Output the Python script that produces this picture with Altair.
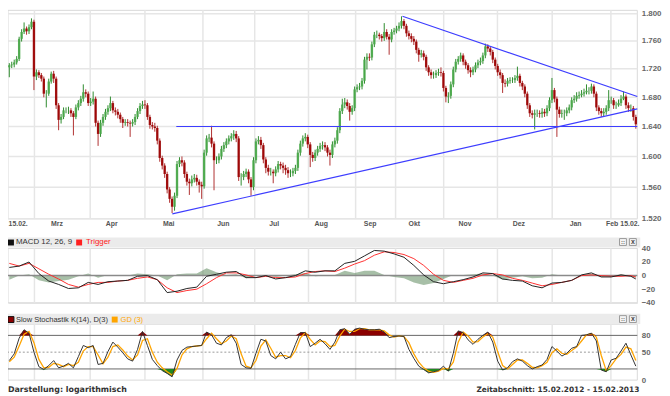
import altair as alt
import pandas as pd

# ---------------- data ----------------
close = [
1.725,1.726,1.729,1.734,1.763,1.773,1.778,1.774,1.780,1.788,
1.709,1.715,1.711,1.706,1.685,1.685,1.702,1.713,1.706,1.669,
1.649,1.653,1.662,1.662,1.662,1.658,1.653,1.666,1.672,1.678,
1.687,1.685,1.672,1.674,1.678,1.645,1.630,1.645,1.653,1.660,
1.665,1.672,1.662,1.660,1.656,1.650,1.645,1.646,1.645,1.644,
1.646,1.653,1.661,1.668,1.670,1.669,1.653,1.642,1.640,1.638,
1.621,1.598,1.588,1.577,1.557,1.545,1.535,1.549,1.590,1.595,
1.592,1.577,1.567,1.565,1.570,1.572,1.567,1.563,1.561,1.605,
1.624,1.625,1.617,1.595,1.595,1.600,1.610,1.615,1.620,1.624,
1.627,1.630,1.624,1.573,1.573,1.577,1.580,1.570,1.560,1.595,
1.620,1.622,1.615,1.596,1.585,1.580,1.580,1.578,1.583,1.590,
1.588,1.585,1.582,1.578,1.578,1.581,1.585,1.605,1.617,1.624,
1.626,1.616,1.602,1.598,1.605,1.610,1.614,1.615,1.612,1.605,
1.602,1.616,1.621,1.635,1.661,1.670,1.673,1.668,1.660,1.665,
1.691,1.694,1.695,1.703,1.733,1.737,1.736,1.755,1.769,1.769,
1.767,1.764,1.773,1.766,1.762,1.773,1.775,1.778,1.782,1.789,
1.782,1.771,1.767,1.763,1.759,1.747,1.740,1.742,1.737,1.722,
1.715,1.711,1.711,1.714,1.715,1.714,1.693,1.681,1.682,1.698,
1.719,1.730,1.734,1.739,1.730,1.725,1.718,1.715,1.719,1.725,
1.729,1.731,1.739,1.752,1.749,1.744,1.733,1.724,1.715,1.711,
1.700,1.699,1.703,1.704,1.704,1.707,1.710,1.700,1.695,1.685,
1.669,1.658,1.656,1.658,1.658,1.657,1.660,1.658,1.665,1.676,
1.690,1.678,1.663,1.657,1.658,1.658,1.662,1.666,1.676,1.678,
1.682,1.683,1.685,1.687,1.689,1.689,1.695,1.685,1.666,1.661,
1.658,1.660,1.665,1.676,1.676,1.669,1.669,1.672,1.678,1.681,
1.669,1.665,1.665,1.653,1.643]

open_ = [
1.722,1.725,1.726,1.729,1.734,1.763,1.773,1.778,1.774,1.780,
1.788,1.709,1.715,1.711,1.706,1.685,1.685,1.702,1.713,1.706,
1.669,1.649,1.653,1.662,1.662,1.662,1.658,1.653,1.666,1.672,
1.678,1.687,1.685,1.672,1.674,1.678,1.645,1.630,1.645,1.653,
1.660,1.665,1.672,1.662,1.660,1.656,1.650,1.645,1.646,1.645,
1.644,1.646,1.653,1.661,1.668,1.670,1.669,1.653,1.642,1.640,
1.638,1.621,1.598,1.588,1.577,1.557,1.545,1.535,1.549,1.590,
1.595,1.592,1.577,1.567,1.565,1.570,1.572,1.567,1.563,1.561,
1.605,1.624,1.625,1.617,1.595,1.595,1.600,1.610,1.615,1.620,
1.624,1.627,1.630,1.624,1.573,1.573,1.577,1.580,1.570,1.560,
1.595,1.620,1.622,1.615,1.596,1.585,1.580,1.580,1.578,1.583,
1.590,1.588,1.585,1.582,1.578,1.578,1.581,1.585,1.605,1.617,
1.624,1.626,1.616,1.602,1.598,1.605,1.610,1.614,1.615,1.612,
1.605,1.602,1.616,1.621,1.635,1.661,1.670,1.673,1.668,1.660,
1.665,1.691,1.694,1.695,1.703,1.733,1.737,1.736,1.755,1.769,
1.769,1.767,1.764,1.773,1.766,1.762,1.773,1.775,1.778,1.782,
1.789,1.782,1.771,1.767,1.763,1.759,1.747,1.740,1.742,1.737,
1.722,1.715,1.711,1.711,1.714,1.715,1.714,1.693,1.681,1.682,
1.698,1.719,1.730,1.734,1.739,1.730,1.725,1.718,1.715,1.719,
1.725,1.729,1.731,1.739,1.752,1.749,1.744,1.733,1.724,1.715,
1.711,1.700,1.699,1.703,1.704,1.704,1.707,1.710,1.700,1.695,
1.685,1.669,1.658,1.656,1.658,1.658,1.657,1.660,1.658,1.665,
1.676,1.690,1.678,1.663,1.657,1.658,1.658,1.662,1.666,1.676,
1.678,1.682,1.683,1.685,1.687,1.689,1.689,1.695,1.685,1.666,
1.661,1.658,1.660,1.665,1.676,1.676,1.669,1.669,1.672,1.678,
1.681,1.669,1.665,1.665,1.653]

high = [
1.728,1.730,1.733,1.738,1.766,1.777,1.787,1.781,1.784,1.793,
1.791,1.719,1.718,1.714,1.709,1.690,1.706,1.716,1.717,1.709,
1.672,1.657,1.666,1.666,1.667,1.665,1.661,1.670,1.676,1.682,
1.698,1.691,1.688,1.679,1.688,1.681,1.648,1.649,1.657,1.664,
1.669,1.681,1.675,1.666,1.664,1.659,1.653,1.650,1.650,1.648,
1.650,1.657,1.665,1.672,1.675,1.676,1.672,1.656,1.646,1.645,
1.641,1.624,1.601,1.591,1.580,1.560,1.548,1.553,1.594,1.599,
1.600,1.595,1.580,1.571,1.575,1.577,1.576,1.570,1.567,1.609,
1.628,1.630,1.641,1.620,1.600,1.604,1.614,1.619,1.624,1.628,
1.631,1.635,1.634,1.627,1.578,1.581,1.584,1.583,1.573,1.599,
1.624,1.627,1.626,1.618,1.599,1.589,1.585,1.583,1.587,1.594,
1.593,1.592,1.589,1.586,1.583,1.585,1.589,1.609,1.621,1.628,
1.631,1.629,1.619,1.606,1.609,1.614,1.618,1.620,1.619,1.615,
1.609,1.620,1.625,1.639,1.665,1.678,1.679,1.677,1.672,1.669,
1.695,1.698,1.700,1.707,1.737,1.742,1.742,1.759,1.773,1.775,
1.772,1.770,1.786,1.777,1.770,1.777,1.779,1.782,1.787,1.796,
1.792,1.785,1.775,1.771,1.767,1.762,1.750,1.747,1.746,1.740,
1.725,1.719,1.716,1.718,1.720,1.722,1.717,1.696,1.687,1.702,
1.723,1.734,1.738,1.743,1.742,1.733,1.728,1.722,1.723,1.729,
1.733,1.736,1.743,1.756,1.755,1.752,1.747,1.736,1.727,1.719,
1.714,1.705,1.707,1.708,1.708,1.711,1.723,1.713,1.703,1.698,
1.688,1.672,1.662,1.663,1.663,1.662,1.665,1.664,1.669,1.680,
1.707,1.693,1.681,1.667,1.663,1.663,1.666,1.670,1.680,1.683,
1.687,1.688,1.690,1.692,1.698,1.694,1.699,1.698,1.688,1.669,
1.665,1.665,1.669,1.690,1.681,1.679,1.674,1.677,1.683,1.688,
1.684,1.673,1.670,1.668,1.656]

low = [
1.708,1.721,1.722,1.726,1.731,1.759,1.770,1.769,1.770,1.777,
1.690,1.704,1.707,1.702,1.680,1.666,1.682,1.699,1.700,1.664,
1.635,1.644,1.650,1.658,1.657,1.653,1.628,1.650,1.662,1.668,
1.674,1.680,1.668,1.668,1.670,1.640,1.614,1.626,1.641,1.649,
1.656,1.661,1.658,1.655,1.651,1.645,1.638,1.641,1.640,1.626,
1.640,1.642,1.650,1.657,1.664,1.664,1.649,1.637,1.636,1.633,
1.616,1.593,1.583,1.572,1.552,1.540,1.527,1.530,1.546,1.586,
1.587,1.572,1.562,1.550,1.561,1.566,1.562,1.553,1.545,1.558,
1.601,1.619,1.612,1.556,1.590,1.591,1.596,1.606,1.611,1.616,
1.620,1.622,1.619,1.568,1.562,1.569,1.573,1.565,1.549,1.556,
1.591,1.616,1.610,1.591,1.578,1.575,1.575,1.565,1.574,1.579,
1.583,1.578,1.576,1.572,1.573,1.574,1.577,1.581,1.601,1.613,
1.620,1.611,1.586,1.593,1.594,1.601,1.606,1.609,1.607,1.600,
1.588,1.598,1.612,1.617,1.631,1.657,1.665,1.663,1.648,1.656,
1.661,1.687,1.690,1.691,1.699,1.719,1.731,1.732,1.751,1.764,
1.762,1.759,1.760,1.762,1.740,1.758,1.769,1.771,1.774,1.778,
1.777,1.766,1.762,1.758,1.754,1.742,1.730,1.736,1.732,1.717,
1.710,1.706,1.706,1.707,1.710,1.709,1.688,1.673,1.672,1.678,
1.694,1.715,1.726,1.730,1.725,1.720,1.713,1.708,1.711,1.715,
1.721,1.725,1.727,1.735,1.744,1.739,1.728,1.719,1.710,1.706,
1.686,1.694,1.695,1.699,1.700,1.700,1.703,1.695,1.690,1.680,
1.664,1.653,1.651,1.636,1.653,1.652,1.652,1.653,1.654,1.661,
1.672,1.673,1.626,1.652,1.652,1.649,1.654,1.658,1.662,1.672,
1.674,1.678,1.680,1.681,1.684,1.684,1.685,1.680,1.661,1.656,
1.653,1.654,1.656,1.661,1.671,1.664,1.664,1.667,1.668,1.676,
1.664,1.660,1.660,1.648,1.637]

# x positions (trading-day index) of month starts and month labels
month_start_idx = [10.2, 32.8, 55.0, 78.5, 99.5, 121.3, 140.4, 156.6, 176.1, 197.9, 220.1, 243.9]
month_labels = ["15.02.", "Mrz", "Apr", "Mai", "Jun", "Jul", "Aug", "Sep", "Okt", "Nov", "Dez", "Jan", "Feb", "15.02."]
month_label_idx = [3.6, 19.3, 41.5, 64.6, 86.8, 107.4, 126.5, 146.3, 164.2, 184.8, 206.6, 229.6, 244.4, 251.6]
price_ticks = [1.52, 1.56, 1.60, 1.64, 1.68, 1.72, 1.76, 1.80]

# trend lines drawn in the chart
trend_names = ["res", "res", "sup", "sup", "hor", "hor"]
trend_idx = [159.4, 254.6, 66.1, 254.6, 67.7, 254.6]
trend_price = [1.796, 1.681, 1.526, 1.664, 1.640, 1.640]

# MACD panel (sampled every 4 trading days)
macd_idx = [0,4,8,12,16,20,24,28,32,36,40,44,48,52,56,60,64,68,72,76,80,84,88,92,96,100,
            104,108,112,116,120,124,128,132,136,140,144,148,152,156,160,164,168,172,176,180,
            184,188,192,196,200,204,208,212,216,220,224,228,232,236,240,244,248,252,254]
macd_vals = [12,14,20,3,-8,-13,-19,-18,-10,-13,-9,-8,-7,-1,0,-6,-25,-23,-19,-17,-1,2,5,6,-3,-3,
             0,-5,-3,0,7,5,7,7,18,21,29,37,36,32,27,15,1,-9,-12,-9,
             -6,-2,4,3,-5,-7,-8,-15,-18,-11,-10,-7,1,4,-2,-2,1,-1,-5]
trigger_vals = [18,14,18,10,2,-5,-13,-17,-13,-10,-10,-8,-7,-4,-2,-6,-18,-25,-22,-20,-12,-3,4,4,1,-3,
                -1,-3,-3,-2,3,6,7,6,11,17,22,30,35,34,31,25,15,2,-7,-10,
                -7,-4,1,3,1,-4,-7,-11,-15,-13,-10,-7,0,1,0,-1,-1,0,-2]
hist_vals = [-6,0,2,-7,-10,-8,-6,-1,3,-3,1,0,0,3,2,0,-7,2,3,3,11,5,1,2,-4,0,
             1,-2,0,2,4,-1,0,1,7,4,7,7,1,-2,-4,-10,-14,-11,-5,1,
             1,2,3,0,-6,-3,-1,-4,-3,2,0,0,1,3,-2,-1,2,-1,-3]

# Slow stochastic (sampled every 2 trading days)
stoch_idx = list(range(0, 255, 2))
k_vals = [35,47,75,90,84,50,24,19,26,35,22,25,30,22,42,62,58,62,28,30,
          51,68,59,49,38,34,55,87,62,37,26,17,12,6,36,53,59,60,61,62,
          86,81,66,63,76,81,66,28,22,21,48,73,70,44,38,50,38,42,64,85,
          85,60,66,73,65,55,68,90,92,82,91,93,91,90,90,91,86,76,78,79,
          78,55,39,25,19,13,15,17,25,16,48,88,85,72,64,73,80,86,68,34,
          18,22,33,38,34,26,20,24,27,37,60,52,43,48,57,60,80,81,84,70,
          18,15,36,39,52,66,45,25]
d_vals = [33,41,61,82,87,67,37,22,23,30,28,24,28,26,32,52,60,60,45,29,
          41,60,63,54,43,36,45,71,74,50,32,22,15,9,21,45,56,60,61,62,
          74,84,74,65,70,79,74,47,25,22,35,61,72,57,41,44,44,40,53,75,
          85,73,63,70,69,60,62,79,91,87,87,92,92,90,90,90,88,81,77,79,
          78,67,47,32,22,16,14,16,21,20,32,68,86,79,68,69,77,83,77,51,
          26,20,28,36,36,30,23,22,26,32,49,56,48,46,53,59,70,81,83,77,
          44,17,26,38,46,59,56,35]

# ---------------- layout ----------------
W = 637
MAIN_R = [211, 0]
MACD_R = [296, 241]
STO_R = [374.3, 317.7]
GRID = "#e6e6e6"
FONT = "Liberation Sans"
FONT_V = "DejaVu Sans"

xs = alt.Scale(domain=[-0.52, 254.6], nice=False, zero=False)
ys_main = alt.Scale(type="log", domain=[1.5198, 1.8049], range=MAIN_R, nice=False, zero=False)
ys_macd = alt.Scale(domain=[-40, 40], range=MACD_R, nice=False, zero=False)
ys_sto = alt.Scale(domain=[0, 100], range=STO_R, nice=False, zero=False)

n = len(close)
candles = pd.DataFrame({"idx": list(range(n)), "open": open_, "close": close, "high": high, "low": low})
up = candles["close"] >= candles["open"]
candles["body"] = ["#4aa84a" if u else "#9a0000" for u in up]
candles["wick"] = ["#2d8a2d" if u else "#b03030" for u in up]

one = pd.DataFrame({"a": [0]})
vg = pd.DataFrame({"idx": month_start_idx})
mlab = pd.DataFrame({"idx": month_label_idx, "label": month_labels})
trend = pd.DataFrame({"name": trend_names, "idx": trend_idx, "price": trend_price})
macd = pd.DataFrame({"idx": macd_idx, "macd": macd_vals, "trig": trigger_vals, "hist": hist_vals})
sto = pd.DataFrame({"idx": stoch_idx, "k": k_vals, "d": d_vals})
zero_df = pd.DataFrame({"v": [0]})
sto_lines = pd.DataFrame({"v": [80, 20]})
sto_mid = pd.DataFrame({"v": [50]})
ptick = pd.DataFrame({"v": price_ticks})

X = alt.X("idx:Q", scale=xs, axis=None)


def vgrid(y0, y1):
    return alt.Chart(vg).mark_rule(color=GRID, strokeWidth=1.5).encode(
        x=X, y=alt.value(y0), y2=alt.value(y1))


def box(x0, x1, y0, y1, fill, stroke=None, sw=1):
    kw = dict(fill=fill)
    if stroke:
        kw.update(stroke=stroke, strokeWidth=sw)
    return alt.Chart(one).mark_rect(**kw).encode(
        x=alt.value(x0), x2=alt.value(x1), y=alt.value(y0), y2=alt.value(y1))


def txt(s, x, y, color, size=8, weight="normal", align="left", font=FONT):
    return alt.Chart(one).mark_text(text=s, align=align, baseline="middle", fontSize=size,
                                    fontWeight=weight, color=color, font=font).encode(
        x=alt.value(x), y=alt.value(y))


def icons(y0):
    out = [box(619, 626, y0, y0 + 7, "#f4f4f4", "#9a9a9a"),
           box(629, 636, y0, y0 + 7, "#f4f4f4", "#9a9a9a"),
           txt("::", 622.5, y0 + 3.2, "#444", size=6, weight="bold", align="center"),
           txt("x", 632.5, y0 + 3.2, "#444", size=7, weight="bold", align="center")]
    return out


layers = []
# panel frames
layers.append(box(0, W, 0, MAIN_R[0], "white", "#d8d8d8"))
layers.append(box(0, W, MACD_R[1], MACD_R[0], "white", "#d8d8d8"))
layers.append(box(0, W, 317.7, 374.3, "white", "#d8d8d8"))
# vertical gridlines
layers += [vgrid(0, MAIN_R[0]), vgrid(MACD_R[1], MACD_R[0]), vgrid(317.7, 374.3)]

# main price axis + horizontal grid
layers.append(alt.Chart(ptick).mark_rule(color=GRID, strokeWidth=1.5).encode(
    y=alt.Y("v:Q", scale=ys_main,
            axis=alt.Axis(orient="right", values=price_ticks, format=".3f", grid=False, domain=False,
                          ticks=False, labelPadding=4, labelFontSize=8, labelFont=FONT,
                          labelFontWeight="bold", labelColor="#666", title=None))))

# candles
layers.append(alt.Chart(candles).mark_rule(strokeWidth=1).encode(
    x=X, y=alt.Y("low:Q", scale=ys_main, axis=None), y2="high:Q",
    color=alt.Color("wick:N", scale=None)))
layers.append(alt.Chart(candles).mark_rule(strokeWidth=2.4, opacity=0.9).encode(
    x=X, y=alt.Y("open:Q", scale=ys_main, axis=None), y2="close:Q",
    color=alt.Color("body:N", scale=None)))

# trend lines
layers.append(alt.Chart(trend).mark_line(color="#3d3dff", strokeWidth=1.1).encode(
    x=X, y=alt.Y("price:Q", scale=ys_main, axis=None), detail="name:N"))

# month labels
layers.append(alt.Chart(mlab).mark_text(fontSize=7, fontWeight="bold", color="#555", font=FONT,
                                        baseline="middle").encode(
    x=X, y=alt.value(216), text="label:N"))

# ---- MACD panel ----
layers.append(box(0, 640, 230, 240, "#ebebeb"))
layers.append(box(0, 6, 232, 238, "#111"))
layers.append(txt("MACD 12, 26, 9", 8, 235, "#333"))
layers.append(box(69, 75, 232, 238, "#ff2020"))
layers.append(txt("Trigger", 79, 235, "#ff2020"))
layers += icons(231)

layers.append(alt.Chart(macd).mark_area(color="#4f7f4f", opacity=0.5).encode(
    x=X, y=alt.Y("hist:Q", scale=ys_macd,
                  axis=alt.Axis(orient="right", values=[-40, -20, 0, 20, 40], grid=True,
                                gridColor=GRID, gridWidth=1.5, domain=False, ticks=False,
                                labelPadding=4, labelFontSize=8, labelFont=FONT,
                                labelFontWeight="bold", labelColor="#666", title=None)),
    y2=alt.datum(0)))
layers.append(alt.Chart(zero_df).mark_rule(color="#8a8a8a", strokeWidth=1.5).encode(
    y=alt.Y("v:Q", scale=ys_macd, axis=None)))
layers.append(alt.Chart(macd).mark_line(color="#ff3030", strokeWidth=1).encode(
    x=X, y=alt.Y("trig:Q", scale=ys_macd, axis=None)))
layers.append(alt.Chart(macd).mark_line(color="#222", strokeWidth=1).encode(
    x=X, y=alt.Y("macd:Q", scale=ys_macd, axis=None)))

# ---- Stochastic panel ----
layers.append(box(0, 640, 307, 317.5, "#ebebeb"))
layers.append(box(0, 6, 310, 316, "#8b0000", "#111"))
layers.append(txt("Slow Stochastik K(14), D(3)", 8, 313, "#333", size=7.6))
layers.append(box(105, 111, 310, 316, "#ffa500"))
layers.append(txt("GD (3)", 114, 313, "#ffa500", size=7.6))
layers += icons(309)

layers.append(alt.Chart(sto_mid).mark_rule(color="#999", strokeWidth=1, strokeDash=[2, 2]).encode(
    y=alt.Y("v:Q", scale=ys_sto, axis=None)))
layers.append(alt.Chart(sto_lines).mark_rule(color="#666", strokeWidth=1).encode(
    y=alt.Y("v:Q", scale=ys_sto,
            axis=alt.Axis(orient="right", values=[0, 50, 80], grid=False, domain=False, ticks=False,
                          labelPadding=4, labelFontSize=8, labelFont=FONT,
                          labelFontWeight="bold", labelColor="#666", title=None))))
layers.append(alt.Chart(sto).transform_calculate(top="max(datum.k, 80)").mark_area(
    color="#8b0000").encode(x=X, y=alt.Y("top:Q", scale=ys_sto, axis=None), y2=alt.datum(80)))
layers.append(alt.Chart(sto).transform_calculate(bot="min(datum.k, 20)").mark_area(
    color="#1f8a1f").encode(x=X, y=alt.Y("bot:Q", scale=ys_sto, axis=None), y2=alt.datum(20)))
layers.append(alt.Chart(sto).mark_line(color="#ffa500", strokeWidth=1.3).encode(
    x=X, y=alt.Y("d:Q", scale=ys_sto, axis=None)))
layers.append(alt.Chart(sto).mark_line(color="#333", strokeWidth=1).encode(
    x=X, y=alt.Y("k:Q", scale=ys_sto, axis=None)))

# footer
layers.append(txt("Darstellung: logarithmisch", 0, 384, "#333", size=8, weight="bold", font=FONT_V))
layers.append(txt("Zeitabschnitt: 15.02.2012 - 15.02.2013", 639, 384, "#333", size=7.5,
                  weight="bold", align="right", font=FONT_V))

chart = alt.layer(*layers).resolve_scale(y="independent").properties(
    width=W, height=380,
    padding={"left": 0, "top": 0, "right": 25, "bottom": 8},
    autosize=alt.AutoSizeParams(type="none"),
).configure_view(stroke=None)

chart.save("out.html", embed_options={"renderer": "svg", "actions": False})
